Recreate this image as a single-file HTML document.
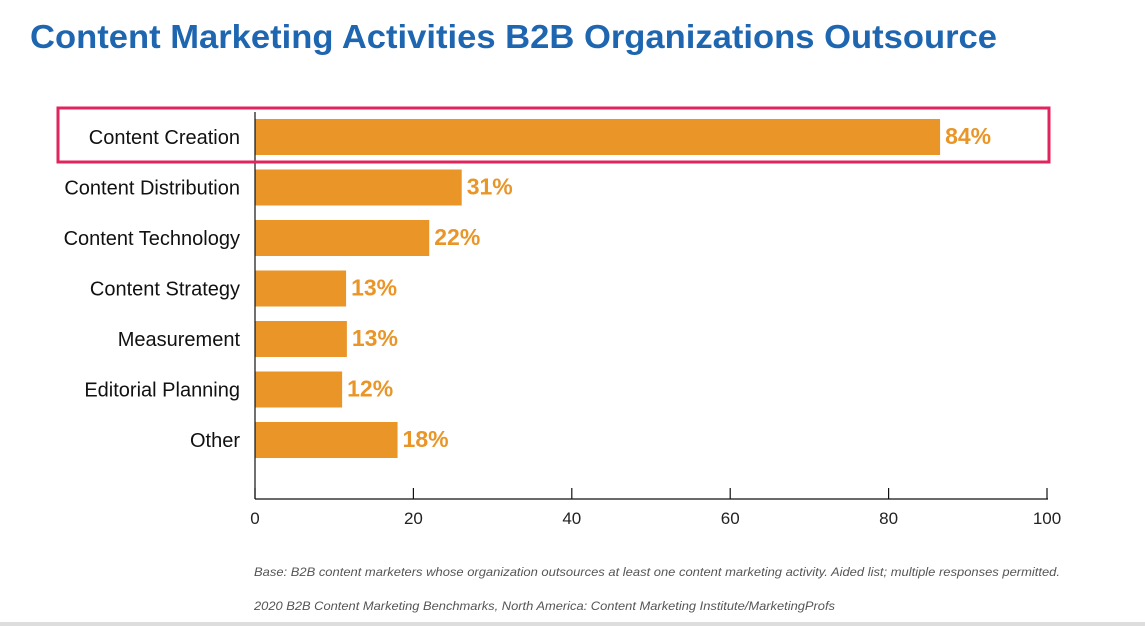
<!DOCTYPE html>
<html><head><meta charset="utf-8"><style>
html,body{margin:0;padding:0;background:#fff;}
svg{display:block;font-family:"Liberation Sans",sans-serif;}
</style></head><body>
<svg id="chart" width="1145" height="626" viewBox="0 0 1145 626">
<text x="30" y="48" font-size="33" font-weight="bold" fill="#1f66b0" textLength="967" lengthAdjust="spacingAndGlyphs">Content Marketing Activities B2B Organizations Outsource</text>
<g id="bars"></g>
<line x1="255" y1="112" x2="255" y2="499" stroke="#111" stroke-width="1.2"/>
<line x1="255" y1="499" x2="1048" y2="499" stroke="#111" stroke-width="1.2"/>
<g id="ticks"></g>
<rect x="58" y="108" width="991" height="54" fill="none" stroke="#e0245e" stroke-width="3"/>
<text x="254" y="576" font-size="12" font-style="italic" fill="#555" textLength="806" lengthAdjust="spacingAndGlyphs">Base: B2B content marketers whose organization outsources at least one content marketing activity. Aided list; multiple responses permitted.</text>
<text x="254" y="610" font-size="12" font-style="italic" fill="#555" textLength="581" lengthAdjust="spacingAndGlyphs">2020 B2B Content Marketing Benchmarks, North America: Content Marketing Institute/MarketingProfs</text>
<rect x="0" y="622" width="1145" height="4" fill="#ddd"/>
</svg>
<script>
const categories = ["Content Creation","Content Distribution","Content Technology","Content Strategy","Measurement","Editorial Planning","Other"];
const values = [86.5,26.1,22,11.5,11.6,11,18];
const valueLabels = ["84%","31%","22%","13%","13%","12%","18%"];
const ticks = [0,20,40,60,80,100];
const NS="http://www.w3.org/2000/svg";
const x0=255,x1=1047;
const xs=v=>x0+(x1-x0)*v/100;
const rowTop=119,rowStep=50.5,barH=36;
const ys=i=>rowTop+i*rowStep;
const bars=document.getElementById('bars');
function mk(t,a,p){const e=document.createElementNS(NS,t);for(const k in a)e.setAttribute(k,a[k]);p.appendChild(e);return e;}
categories.forEach((c,i)=>{
  const y=ys(i);
  const r=mk('rect',{x:x0,y:y,width:xs(values[i])-x0,height:barH,fill:'#e99527'},bars);
  
  
  const l=mk('text',{x:240,y:y+barH/2+7,'font-size':20,'text-anchor':'end',fill:'#111'},bars);
  l.textContent=c;
  
  
  const v=mk('text',{x:xs(values[i])+5,y:y+barH/2+7,'font-size':23,'font-weight':'bold',fill:'#e99527'},bars);
  v.textContent=valueLabels[i];
  
  
});
const tg=document.getElementById('ticks');
ticks.forEach(t=>{
  const x=xs(t);
  const ln=mk('line',{x1:x,y1:488,x2:x,y2:499,stroke:'#111','stroke-width':1.2},tg);
  
  
  const tx=mk('text',{x:x,y:524,'font-size':17,'text-anchor':'middle',fill:'#222'},tg);
  tx.textContent=t;
  
  
});
</script>
</body></html>
